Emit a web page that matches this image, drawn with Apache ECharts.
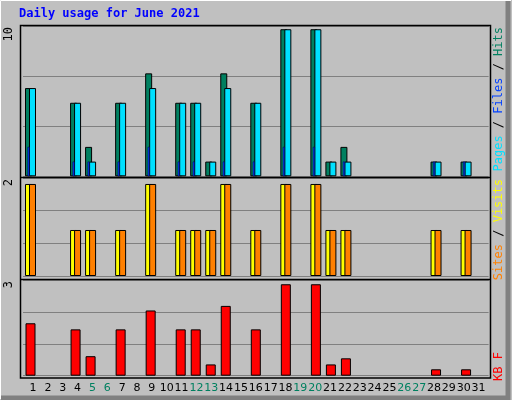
<!DOCTYPE html>
<html><head><meta charset="utf-8">
<script src="https://cdn.jsdelivr.net/npm/echarts@6/dist/echarts.min.js"></script>
<style>html,body{margin:0;padding:0;background:#c0c0c0}#c{width:512px;height:400px}</style>
</head><body><div id="c"></div>
<script>
const days = ['1','2','3','4','5','6','7','8','9','10','11','12','13','14','15','16','17','18','19','20','21','22','23','24','25','26','27','28','29','30','31'];
const weekend = ['5','6','12','13','19','20','26','27'];
const hits  = [6,0,0,5,2,0,5,0,7,0,5,5,1,7,0,5,0,10,0,10,1,2,0,0,0,0,0,1,0,1,0];
const files = [6,0,0,5,1,0,5,0,6,0,5,5,1,6,0,5,0,10,0,10,1,1,0,0,0,0,0,1,0,1,0];
const pages = [2,0,0,1,1,0,1,0,2,0,1,1,0,1,0,1,0,2,0,2,0,1,0,0,0,0,0,1,0,1,0];
const visits= [2,0,0,1,1,0,1,0,2,0,1,1,1,2,0,1,0,2,0,2,1,1,0,0,0,0,0,1,0,1,0];
const sites = [2,0,0,1,1,0,1,0,2,0,1,1,1,2,0,1,0,2,0,2,1,1,0,0,0,0,0,1,0,1,0];
const kbytes= [1.72,0,0,1.52,0.64,0,1.52,0,2.14,0,1.52,1.52,0.37,2.29,0,1.52,0,3,0,3,0.37,0.57,0,0,0,0,0,0.21,0,0.21,0];
const scaleLabels = ['10','2','3'];
const title = 'Daily usage for June 2021';

const nz = (a)=>a.map(v=>v===0?'-':v);
const zeros = days.map(()=>'-');
const font = '"DejaVu Sans Mono", monospace';
const B = {borderColor:'#000',borderWidth:1};
const hiddenX = (g)=>({type:'category',data:days,gridIndex:g,show:false,boundaryGap:true});
const yA = (g,max,intv)=>({type:'value',gridIndex:g,min:0,max:max,interval:intv,
  axisLabel:{show:false},axisLine:{show:false},axisTick:{show:false},
  splitLine:{show:true,lineStyle:{color:'#808080',width:1}}});

const chart = echarts.init(document.getElementById('c'));
chart.setOption({
  animation:false,
  backgroundColor:'#c0c0c0',
  grid:[
    {left:23,right:23.4,top:26,height:150.3},
    {left:23,right:23.4,top:178,height:98},
    {left:23,right:23.4,top:280.3,height:95.4},
    {left:25.6,right:26,top:376,height:1}
  ],
  xAxis:[hiddenX(0),hiddenX(0),hiddenX(1),hiddenX(2),
    {type:'category',data:days,gridIndex:3,axisLine:{show:false},axisTick:{show:false},
     axisLabel:{interval:0,margin:6,fontFamily:'"DejaVu Sans"',fontSize:11,
       color:(v)=>weekend.includes(v)?'#008060':'#000'}}],
  yAxis:[yA(0,10.22,3.4),yA(1,2.13,0.71),yA(2,3.13,1.043),
    {type:'value',gridIndex:3,show:false}],
  series:[
    {type:'bar',xAxisIndex:0,yAxisIndex:0,data:nz(hits),barWidth:7,barGap:'-43%',itemStyle:Object.assign({color:'#008060'},B)},
    {type:'bar',xAxisIndex:0,yAxisIndex:0,data:nz(files),barWidth:7,itemStyle:Object.assign({color:'#00e0ff'},B)},
    {type:'bar',xAxisIndex:1,yAxisIndex:0,data:nz(pages),barWidth:2,barGap:0,z:5,itemStyle:{color:'#0040ff',borderColor:'#000040',borderWidth:0.5}},
    {type:'bar',xAxisIndex:1,yAxisIndex:0,data:zeros,barWidth:4,itemStyle:{opacity:0}},
    {type:'bar',xAxisIndex:2,yAxisIndex:1,data:nz(visits),barWidth:7,barGap:'-43%',itemStyle:Object.assign({color:'#ffff00'},B)},
    {type:'bar',xAxisIndex:2,yAxisIndex:1,data:nz(sites),barWidth:7,itemStyle:Object.assign({color:'#ff8000'},B)},
    {type:'bar',xAxisIndex:3,yAxisIndex:2,data:nz(kbytes),barWidth:10,itemStyle:Object.assign({color:'#ff0000'},B)}
  ],
  graphic:[
    {type:'polyline',shape:{points:[[0.5,399],[0.5,0.5],[511,0.5]]},style:{stroke:'#fff',lineWidth:1,fill:null},silent:true},
    {type:'polyline',shape:{points:[[1,398],[508,398],[508,1]]},style:{stroke:'#808080',lineWidth:5,fill:null},silent:true},
    {type:'rect',shape:{x:20.5,y:25.5,width:470,height:352.5},style:{fill:null,stroke:'#000',lineWidth:1.5},z:10,silent:true},
    {type:'line',shape:{x1:20,y1:177.5,x2:491,y2:177.5},style:{stroke:'#000',lineWidth:1.5},z:10},
    {type:'line',shape:{x1:20,y1:279.5,x2:491,y2:279.5},style:{stroke:'#000',lineWidth:1.5},z:10},
    {type:'text',left:19,top:8,style:{text:title,fill:'#0000ff',font:'bold 12px '+font}},
    {type:'text',x:9,y:27,rotation:Math.PI/2,style:{text:scaleLabels[0],fill:'#000',font:'12px '+font,align:'right',verticalAlign:'middle'}},
    {type:'text',x:9,y:179,rotation:Math.PI/2,style:{text:scaleLabels[1],fill:'#000',font:'12px '+font,align:'right',verticalAlign:'middle'}},
    {type:'text',x:9,y:281,rotation:Math.PI/2,style:{text:scaleLabels[2],fill:'#000',font:'12px '+font,align:'right',verticalAlign:'middle'}},
    {type:'text',x:499,y:27,rotation:Math.PI/2,style:{align:'right',verticalAlign:'middle',font:'12px '+font,
      rich:{p:{fill:'#00e0ff',font:'12px '+font},f:{fill:'#0040ff',font:'12px '+font},h:{fill:'#008060',font:'12px '+font},s:{fill:'#000',font:'12px '+font}},
      text:'{p|Pages}{s| / }{f|Files}{s| / }{h|Hits}'}},
    {type:'text',x:499,y:179,rotation:Math.PI/2,style:{align:'right',verticalAlign:'middle',font:'12px '+font,
      rich:{v:{fill:'#ffff00',font:'12px '+font},si:{fill:'#ff8000',font:'12px '+font},s:{fill:'#000',font:'12px '+font}},
      text:'{si|Sites}{s| / }{v|Visits}'}},
    {type:'text',x:499,y:352,rotation:Math.PI/2,style:{align:'right',verticalAlign:'middle',font:'12px '+font,fill:'#ff0000',text:'KB F'}}
  ]
});
</script></body></html>
